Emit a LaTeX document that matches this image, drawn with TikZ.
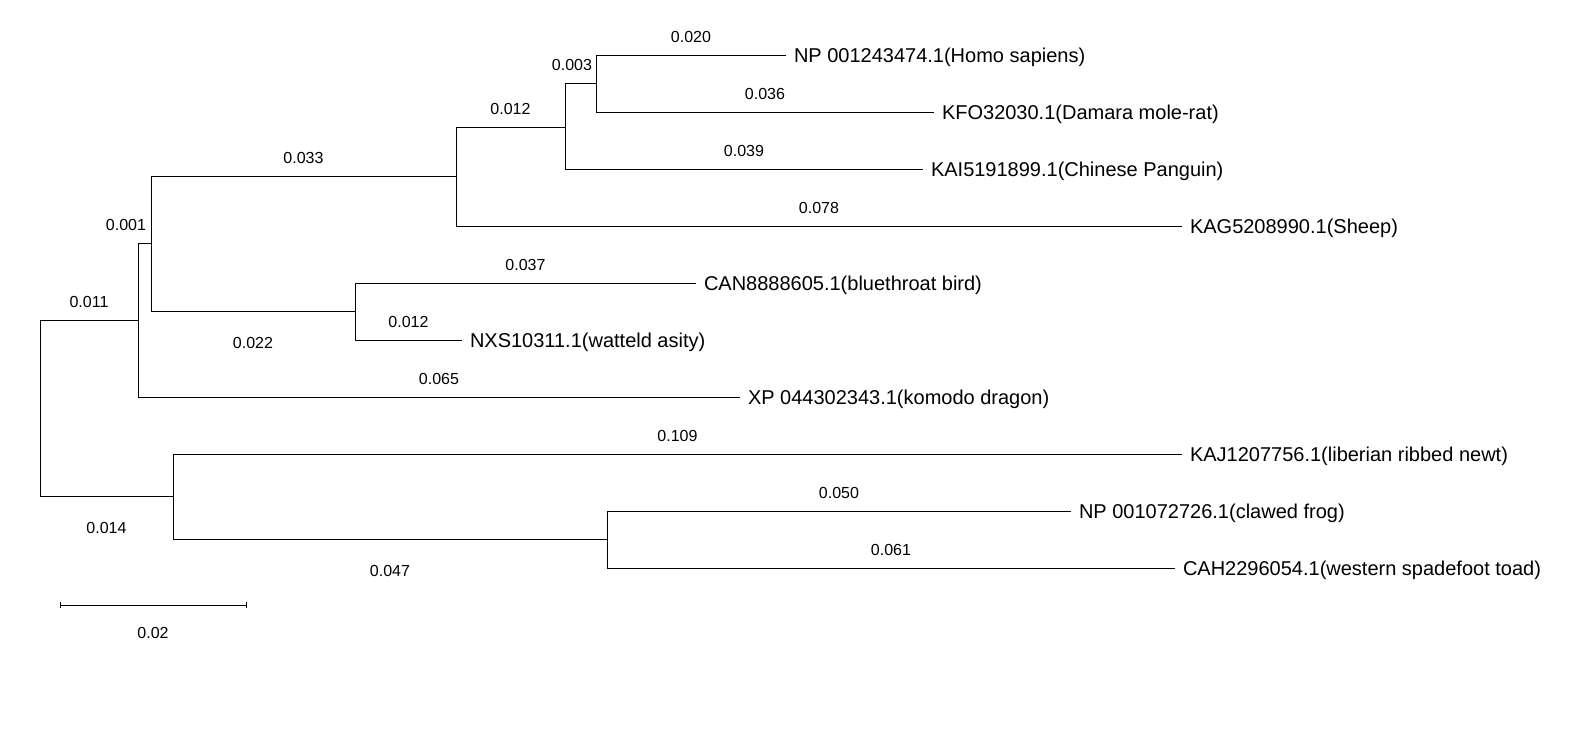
\documentclass[tikz,border=0pt]{standalone}
\usepackage{fontspec}
\setmainfont{Liberation Sans}
\usetikzlibrary{positioning}
\tikzset{
  taxon/.style={anchor=base west,inner sep=0pt,xshift=7.5pt,yshift=-7pt,font=\fontsize{20}{24}\selectfont},
  blen/.style={inner sep=0pt,font=\fontsize{16}{19}\selectfont},
  up/.style={blen,pos=0.75,anchor=south,yshift=12pt},
  down/.style={blen,pos=0.75,anchor=north,yshift=-26pt},
}
\begin{document}
\begin{tikzpicture}[x=1pt,y=-1pt,line width=1pt]
    \useasboundingbox (0,0) rectangle (1580,740);
    % internal nodes
    \coordinate (R) at (40,408);
    \coordinate (A) at (138,320);
    \coordinate (B) at (151,243);
    \coordinate (C) at (456,176);
    \coordinate (D) at (565,127);
    \coordinate (E) at (596,83);
    \coordinate (G) at (355,311);
    \coordinate (F) at (173,496);
    \coordinate (H) at (607,539);
    % tips
    \coordinate (tHomo) at (786,55);
    \coordinate (tDamara) at (934,112);
    \coordinate (tPangolin) at (923,169);
    \coordinate (tSheep) at (1182,226);
    \coordinate (tBluethroat) at (696,283);
    \coordinate (tAsity) at (462,340);
    \coordinate (tKomodo) at (740,397);
    \coordinate (tNewt) at (1182,454);
    \coordinate (tFrog) at (1071,511);
    \coordinate (tToad) at (1175,568);

    \node[taxon] (homo) at (tHomo) {NP 001243474.1(Homo sapiens)};
    \node[taxon] (damara) at (tDamara) {KFO32030.1(Damara mole-rat)};
    \node[taxon] (pangolin) at (tPangolin) {KAI5191899.1(Chinese Panguin)};
    \node[taxon] (sheep) at (tSheep) {KAG5208990.1(Sheep)};
    \node[taxon] (bluethroat) at (tBluethroat) {CAN8888605.1(bluethroat bird)};
    \node[taxon] (asity) at (tAsity) {NXS10311.1(watteld asity)};
    \node[taxon] (komodo) at (tKomodo) {XP 044302343.1(komodo dragon)};
    \node[taxon] (newt) at (tNewt) {KAJ1207756.1(liberian ribbed newt)};
    \node[taxon] (frog) at (tFrog) {NP 001072726.1(clawed frog)};
    \node[taxon] (toad) at (tToad) {CAH2296054.1(western spadefoot toad)};

    % branches
    \draw (R) |- node[up] {0.011} (A);
    \draw (R) |- node[down] {0.014} (F);
    \draw (A) |- node[up,xshift=-18.5pt] {0.001} (B);
    \draw (A) |- node[up] {0.065} (tKomodo);
    \draw (B) |- node[up] {0.033} (C);
    \draw (B) |- node[down] {0.022} (G);
    \draw (C) |- node[up] {0.012} (D);
    \draw (C) |- node[up] {0.078} (tSheep);
    \draw (D) |- node[up,xshift=-8.5pt] {0.003} (E);
    \draw (D) |- node[up] {0.039} (tPangolin);
    \draw (E) |- node[up] {0.020} (tHomo);
    \draw (E) |- node[up] {0.036} (tDamara);
    \draw (G) |- node[up] {0.037} (tBluethroat);
    \draw (G) |- node[up] {0.012} (tAsity);
    \draw (F) |- node[up] {0.109} (tNewt);
    \draw (F) |- node[down] {0.047} (H);
    \draw (H) |- node[up] {0.050} (tFrog);
    \draw (H) |- node[up] {0.061} (tToad);

    % scale bar
    \coordinate (sL) at (60,605);
    \coordinate (sR) at (246,605);
    \draw (sL) -- node[blen,below=22pt] (scale) {0.02} (sR);
    \draw ([yshift=3pt]sL) -- ([yshift=-3pt]sL);
    \draw ([yshift=3pt]sR) -- ([yshift=-3pt]sR);
\end{tikzpicture}
\end{document}
